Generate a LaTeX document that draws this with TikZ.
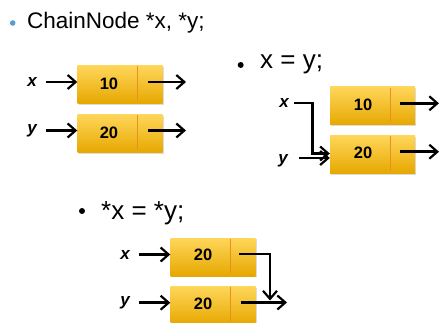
\documentclass[tikz,border=0pt]{standalone}
\usepackage{fontspec}
\setmainfont{Liberation Sans}
\usetikzlibrary{arrows.meta,shadows,calc}
\definecolor{boxtop}{RGB}{255,214,90}
\definecolor{boxmid}{RGB}{255,192,0}
\definecolor{boxbot}{RGB}{230,168,0}
\definecolor{divcol}{RGB}{240,140,40}
\definecolor{bulblue}{RGB}{91,155,213}
\tikzset{
  cbox/.style={rectangle, minimum width=85pt, minimum height=38pt, inner sep=0pt,
    top color=boxtop, middle color=boxmid, bottom color=boxbot, draw=none,
    drop shadow={opacity=0.28, shadow xshift=1.2pt, shadow yshift=-1.2pt}},
  val/.style={font=\fontsize{16.5}{18}\selectfont\bfseries, inner sep=0pt},
  ptr/.style={font=\fontsize{17}{18}\selectfont\bfseries\itshape, inner sep=0pt},
  title/.style={font=\fontsize{22.5}{26}\selectfont, anchor=west, inner sep=0pt},
  subtitle/.style={font=\fontsize{26}{30}\selectfont, anchor=west, inner sep=0pt},
  divline/.style={draw=divcol, line width=1pt},
  arr/.style={line width=2.5pt, -{Straight Barb[length=8pt,width=14pt,line width=2.2pt]}},
}
\begin{document}
\begin{tikzpicture}[x=1pt,y=-1pt]
\useasboundingbox (0,0) rectangle (439,323);
% bullets and titles
\fill[bulblue] (12.7,23) circle (2.8);
\node[title] (t1) at (27,23) {ChainNode *x, *y;};
\fill[black] (240.7,65) circle (3);
\node[subtitle] (t2) at (260,64) {x = y;};
\fill[black] (82,211) circle (3);
\node[subtitle] (t3) at (101,213) {*x = *y;};

% ---------- panel 1 ----------
\node[cbox] (b1) at (120,84.5) {};
\node[cbox] (b2) at (120,133.5) {};
\draw[divline] ([xshift=17.5pt,yshift=-1pt]b1.north) -- ([xshift=17.5pt,yshift=3pt]b1.south);
\draw[divline] ([xshift=17.5pt,yshift=-1pt]b2.north) -- ([xshift=17.5pt,yshift=3pt]b2.south);
\node[val] (v1) at (109,84) {10};
\node[val] (v2) at (109,133) {20};
\node[ptr] (x1) at (32,82) {x};
\node[ptr] (y1) at (32,131) {y};
\coordinate (xs1) at (46,82);
\coordinate (ys1) at (46,130.5);
\draw[arr] (xs1) -- (xs1 -| b1.west);
\draw[arr] (ys1) -- (ys1 -| b2.west);
\coordinate (p1) at (148,82);
\coordinate (o1) at (186,82);
\coordinate (p2) at (148,130.5);
\coordinate (o2) at (186,130.5);
\draw[arr] (p1) -- (o1);
\draw[arr] (p2) -- (o2);

% ---------- panel 2 ----------
\node[cbox] (bA) at (372.5,106) {};
\node[cbox] (bB) at (372.5,154.5) {};
\draw[divline] ([xshift=17.5pt,yshift=-1pt]bA.north) -- ([xshift=17.5pt,yshift=3pt]bA.south);
\draw[divline] ([xshift=17.5pt,yshift=-1pt]bB.north) -- ([xshift=17.5pt,yshift=3pt]bB.south);
\node[val] (vA) at (363,104.5) {10};
\node[val] (vB) at (363,152.5) {20};
\node[ptr] (x2) at (284,103) {x};
\node[ptr] (y2) at (283,161) {y};
\coordinate (xs2) at (294,103);
\coordinate (xc2) at (312.5,103);
\coordinate (xd2) at (312.5,153.5);
\draw[arr] (xs2) -- (xc2) -- (xd2) -- (xd2 -| bB.west);
\coordinate (ys2) at (299,158);
\draw[arr] (ys2) -- (ys2 -| bB.west);
\coordinate (pA) at (400,103.3);
\coordinate (oA) at (439,103.3);
\coordinate (pB) at (400,151.7);
\coordinate (oB) at (439,151.7);
\draw[arr] (pA) -- (oA);
\draw[arr] (pB) -- (oB);

% ---------- panel 3 ----------
\node[cbox] (bC) at (213,257) {};
\node[cbox] (bD) at (213,305.5) {};
\draw[divline] ([xshift=17.7pt,yshift=-1pt]bC.north) -- ([xshift=17.7pt,yshift=3pt]bC.south);
\draw[divline] ([xshift=17.7pt,yshift=-1pt]bD.north) -- ([xshift=17.7pt,yshift=3pt]bD.south);
\node[val] (vC) at (203,255) {20};
\node[val] (vD) at (203,303.5) {20};
\node[ptr] (x3) at (125,255) {x};
\node[ptr] (y3) at (125,303) {y};
\coordinate (xs3) at (139,254.5);
\coordinate (ys3) at (139,302.7);
\draw[arr] (xs3) -- (xs3 -| bC.west);
\draw[arr] (ys3) -- (ys3 -| bD.west);
\coordinate (pC) at (239,254);
\coordinate (cC) at (270,254);
\coordinate (dC) at (270,300.5);
\draw[arr] (pC) -- (cC) -- (dC);
\coordinate (pD) at (240.5,302.5);
\coordinate (oD) at (287,302.5);
\draw[arr] (pD) -- (oD);
\end{tikzpicture}
\end{document}
